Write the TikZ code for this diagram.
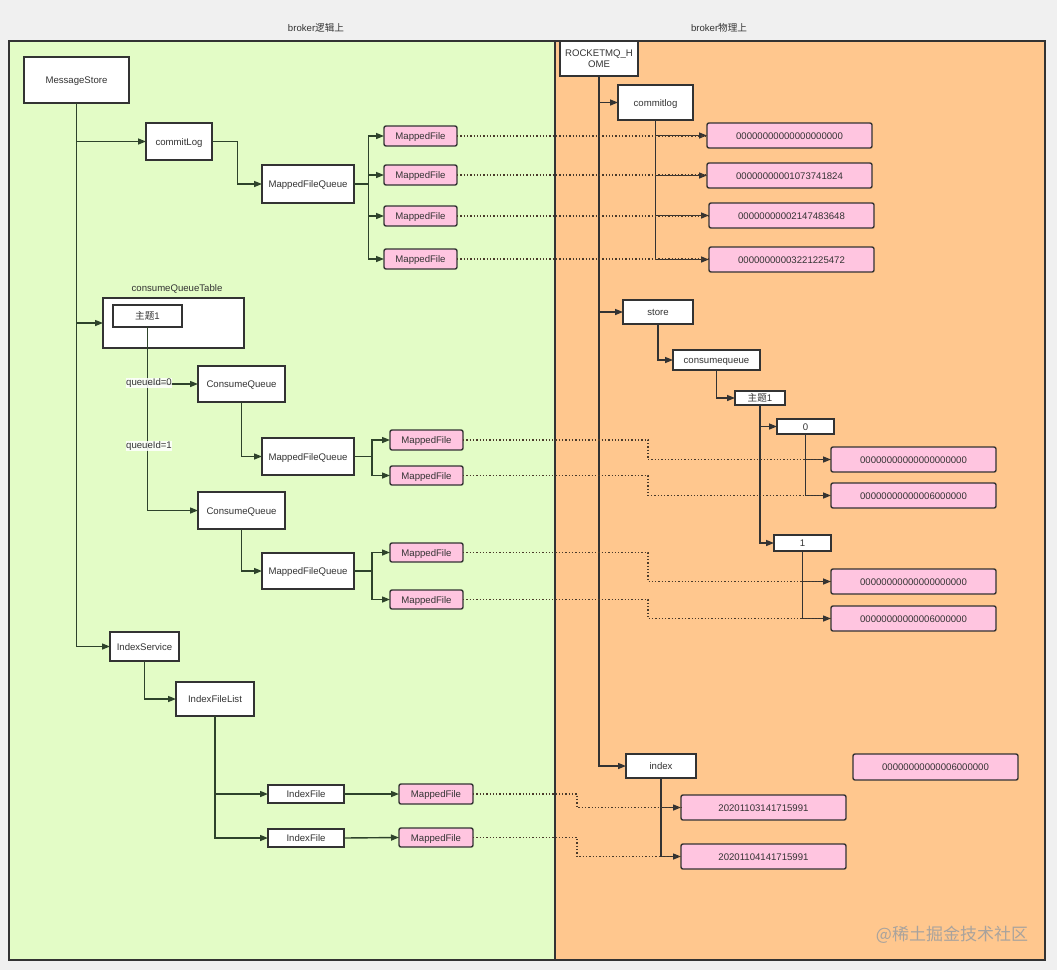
\documentclass[tikz,border=0pt]{standalone}
\usepackage{fontspec}
\setmainfont{Liberation Sans}
\newfontfamily\cjk{Noto Sans CJK SC}
\usetikzlibrary{arrows.meta}
\definecolor{bgc}{HTML}{F0F0F0}
\definecolor{greenp}{HTML}{E3FCC6}
\definecolor{orangep}{HTML}{FFC78E}
\definecolor{pinkc}{HTML}{FFC5E0}
\definecolor{edgec}{HTML}{333333}
\definecolor{lcon}{HTML}{2E432B}
\definecolor{rcon}{HTML}{333333}
\definecolor{dotc}{HTML}{4A3A2A}
\definecolor{txtc}{HTML}{333333}
\newcommand{\bx}[7]{\node[#1, minimum width={(#5-#3)*1pt}, minimum height={(#6-#4)*1pt}] (#2) at ({(#3+#5)/2},{(#4+#6)/2}) {#7};}
\begin{document}
\begin{tikzpicture}[x=1pt, y=-1pt,
  font=\fontsize{9.6}{11}\selectfont,
  wbox/.style={draw=edgec, fill=white, line width=1.4pt, inner sep=0pt, outer sep=0pt, text=txtc, text height=8pt, text depth=0.5pt},
  pbox/.style={wbox, fill=pinkc, rounded corners=2pt},
  arr/.style={draw=lcon, line width=1.4pt, -{Triangle[length=8pt,width=6pt]}},
  rarr/.style={arr, draw=rcon},
  dotl/.style={draw=dotc, line width=1.5pt, dash pattern=on 1.3pt off 2pt},
  lbl/.style={text=txtc, inner sep=0.6pt, fill=white, fill opacity=0.85, text opacity=1}]
\useasboundingbox (0,0) rectangle (1057,970);
\fill[bgc] (0,0) rectangle (1057,970);
\draw[edgec, line width=1.5pt, fill=greenp] (9,41) rectangle (555,960);
\draw[edgec, line width=1.5pt, fill=orangep] (555,41) rectangle (1045,960);
\node[text=txtc] (tl) at (316,28) {broker{\cjk 逻辑上}};
\node[text=txtc] (tr) at (719,28) {broker{\cjk 物理上}};

% left: logical
\bx{wbox}{ms}{24}{57}{129}{103}{MessageStore}
\bx{wbox}{cl}{146}{123}{212}{160}{commitLog}
\bx{wbox}{mfqa}{262}{165}{354}{203}{MappedFileQueue}
\bx{pbox}{mfa}{384}{126}{457}{146}{MappedFile}
\bx{pbox}{mfb}{384}{165}{457}{185}{MappedFile}
\bx{pbox}{mfc}{384}{206}{457}{226}{MappedFile}
\bx{pbox}{mfd}{384}{249}{457}{269}{MappedFile}
\node[text=txtc] (cqtl) at (177,289) {consumeQueueTable};
\bx{wbox}{cqt}{103}{298}{244}{348}{}
\bx{wbox}{ta}{113}{305}{182}{327}{{\cjk 主题}1}
\bx{wbox}{cqa}{198}{366}{285}{402}{ConsumeQueue}
\bx{wbox}{mfqb}{262}{438}{354}{475}{MappedFileQueue}
\bx{pbox}{mfe}{390}{430}{463}{450}{MappedFile}
\bx{pbox}{mff}{390}{466}{463}{485}{MappedFile}
\bx{wbox}{cqb}{198}{492}{285}{529}{ConsumeQueue}
\bx{wbox}{mfqc}{262}{553}{354}{589}{MappedFileQueue}
\bx{pbox}{mfg}{390}{543}{463}{562}{MappedFile}
\bx{pbox}{mfh}{390}{590}{463}{609}{MappedFile}
\bx{wbox}{is}{110}{632}{179}{661}{IndexService}
\bx{wbox}{ifl}{176}{682}{254}{716}{IndexFileList}
\bx{wbox}{ifa}{268}{785}{344}{803}{IndexFile}
\bx{wbox}{ifb}{268}{829}{344}{847}{IndexFile}
\bx{pbox}{mfi}{399}{784}{473}{804}{MappedFile}
\bx{pbox}{mfj}{399}{828}{473}{847}{MappedFile}

% right: physical
\bx{wbox, align=center, text height=, text depth=}{rh}{560}{41}{638}{76}{ROCKETMQ\_H\\OME}
\bx{wbox}{clb}{618}{85}{693}{120}{commitlog}
\bx{pbox}{pa}{707}{123}{872}{148}{00000000000000000000}
\bx{pbox}{pb}{707}{163}{872}{188}{00000000001073741824}
\bx{pbox}{pc}{709}{203}{874}{228}{00000000002147483648}
\bx{pbox}{pd}{709}{247}{874}{272}{00000000003221225472}
\bx{wbox}{st}{623}{300}{693}{324}{store}
\bx{wbox}{cqd}{673}{350}{760}{370}{consumequeue}
\bx{wbox}{tb}{735}{391}{785}{405}{{\cjk 主题}1}
\bx{wbox}{qa}{777}{419}{834}{434}{0}
\bx{pbox}{pe}{831}{447}{996}{472}{00000000000000000000}
\bx{pbox}{pf}{831}{483}{996}{508}{00000000000006000000}
\bx{wbox}{qb}{774}{535}{831}{551}{1}
\bx{pbox}{pg}{831}{569}{996}{594}{00000000000000000000}
\bx{pbox}{ph}{831}{606}{996}{631}{00000000000006000000}
\bx{wbox}{ix}{626}{754}{696}{778}{index}
\bx{pbox}{pi}{681}{795}{846}{820}{20201103141715991}
\bx{pbox}{pj}{681}{844}{846}{869}{20201104141715991}
\bx{pbox}{pk}{853}{754}{1018}{780}{00000000000006000000}

% left connectors
\draw[arr] (ms.south) |- (cl.west);
\draw[arr] (ms.south) |- (cqt.west);
\draw[arr] (ms.south) |- (is.west);
\draw[arr] (cl.east) -- ++(25.5,0) |- (mfqa.west);
\foreach \t in {mfa,mfb,mfc,mfd} \draw[arr] (mfqa.east) -- ++(14.5,0) |- (\t.west);
\draw[arr] (ta.south) |- (cqa.west);
\draw[arr] (ta.south) |- (cqb.west);
\draw[arr] (cqa.south) |- (mfqb.west);
\foreach \t in {mfe,mff} \draw[arr] (mfqb.east) -- ++(18,0) |- (\t.west);
\draw[arr] (cqb.south) |- (mfqc.west);
\foreach \t in {mfg,mfh} \draw[arr] (mfqc.east) -- ++(18,0) |- (\t.west);
\draw[arr] (is.south) |- (ifl.west);
\draw[arr] (ifl.south) |- (ifa.west);
\draw[arr] (ifl.south) |- (ifb.west);
\draw[arr] (ifa.east) -- (mfi.west);
\draw[arr] (ifb.east) -- (mfj.west);
\node[lbl] (qla) at (149,383) {queueId=0};
\node[lbl] (qlb) at (149,446) {queueId=1};

% right connectors
\draw[rarr] (rh.south) |- (clb.west);
\draw[rarr] (rh.south) |- (st.west);
\draw[rarr] (rh.south) |- (ix.west);
\foreach \t in {pa,pb,pc,pd} \draw[rarr] (clb.south) |- (\t.west);
\draw[rarr] (st.south) |- (cqd.west);
\draw[rarr] (cqd.south) |- (tb.west);
\draw[rarr] (tb.south) |- (qa.west);
\draw[rarr] (tb.south) |- (qb.west);
\draw[rarr] (qa.south) |- (pe.west);
\draw[rarr] (qa.south) |- (pf.west);
\draw[rarr] (qb.south) |- (pg.west);
\draw[rarr] (qb.south) |- (ph.west);
\draw[rarr] (ix.south) |- (pi.west);
\draw[rarr] (ix.south) |- (pj.west);

% dotted links
\coordinate (ba) at (648,0);
\coordinate (bb) at (577,0);
\draw[dotl] (mfa.east) -- (mfa.east -| pa.west);
\draw[dotl] (mfb.east) -- (mfb.east -| pb.west);
\draw[dotl] (mfc.east) -- (mfc.east -| pc.west);
\draw[dotl] (mfd.east) -- (mfd.east -| pd.west);
\draw[dotl] (mfe.east) -| (ba |- pe.west) -- (pe.west);
\draw[dotl] (mff.east) -| (ba |- pf.west) -- (pf.west);
\draw[dotl] (mfg.east) -| (ba |- pg.west) -- (pg.west);
\draw[dotl] (mfh.east) -| (ba |- ph.west) -- (ph.west);
\draw[dotl] (mfi.east) -| (bb |- pi.west) -- (pi.west);
\draw[dotl] (mfj.east) -| (bb |- pj.west) -- (pj.west);

\node[text=gray!75, opacity=0.9, font=\cjk\fontsize{17}{17}\selectfont] (wm) at (952,935) {@稀土掘金技术社区};
\end{tikzpicture}
\end{document}
